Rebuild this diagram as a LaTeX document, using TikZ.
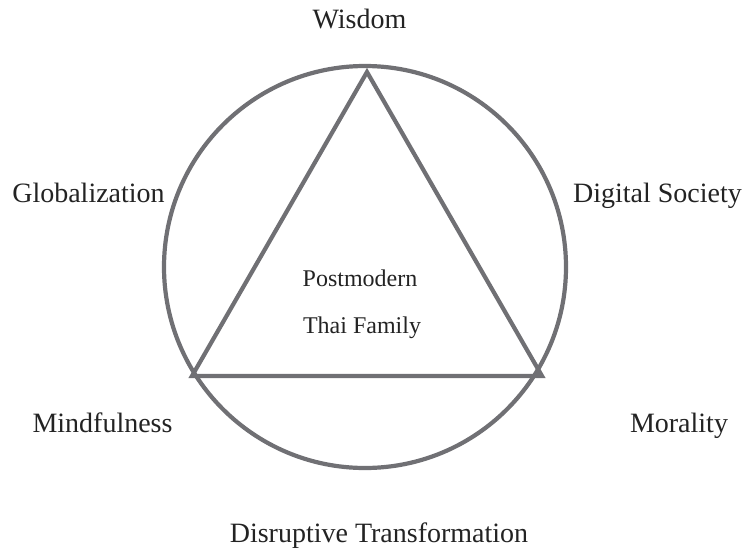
\documentclass[tikz,border=0pt]{standalone}
\usepackage{fontspec}
\setmainfont{Liberation Serif}
\definecolor{linegray}{RGB}{112,112,116}
\definecolor{txt}{RGB}{35,35,35}
\begin{document}
\begin{tikzpicture}[x=1pt,y=-1pt,
  outer/.style={anchor=base,inner sep=0pt,text=txt,font=\fontsize{28}{34}\selectfont},
  inner/.style={anchor=base,inner sep=0pt,text=txt,font=\fontsize{24}{29}\selectfont},
  shapeline/.style={draw=linegray,line width=4.2pt,line join=miter}]
\useasboundingbox (0,0) rectangle (749,554);
\coordinate (c) at (365,267);
\coordinate (apex) at (367,72);
\coordinate (bl) at (192,376);
\coordinate (br) at (542,376);
\draw[shapeline] (c) circle[radius=201];
\draw[shapeline] (apex) -- (bl) -- (br) -- cycle;
\node[outer] (wisdom) at (359.5,28) {Wisdom};
\node[outer] (glob) at (88.5,202) {Globalization};
\node[outer] (digital) at (657.5,202) {Digital Society};
\node[outer] (mind) at (102.5,432) {Mindfulness};
\node[outer] (moral) at (679,432) {Morality};
\node[outer] (disrupt) at (379,542) {Disruptive Transformation};
\node[inner] (post) at (360,286) {Postmodern};
\node[inner] (thai) at (362,333) {Thai Family};
\end{tikzpicture}
\end{document}
